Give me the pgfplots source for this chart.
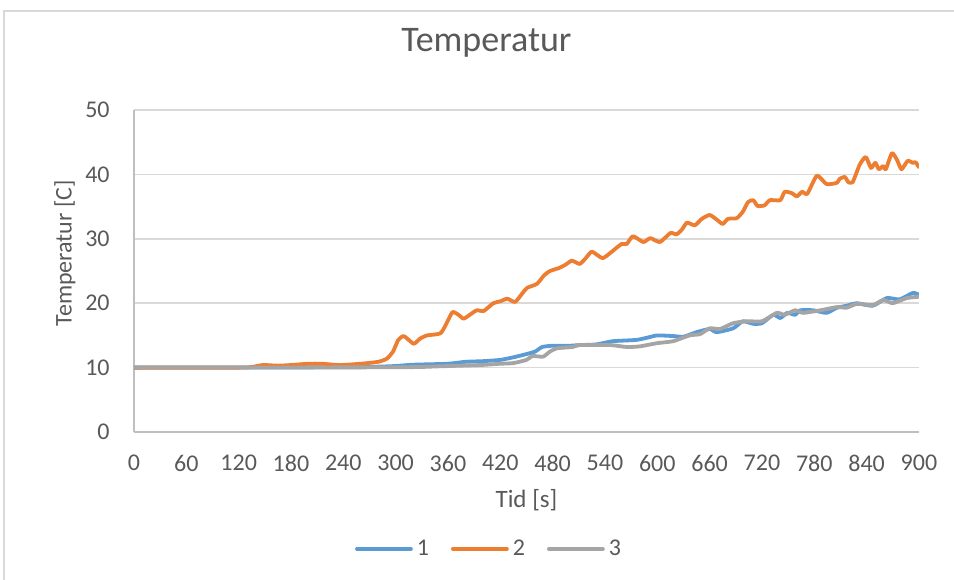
\documentclass[border=0pt]{standalone}
\usepackage{pgfplots}
\pgfplotsset{compat=1.18}
\usepackage{fontspec}
\setmainfont{Carlito}
\definecolor{s1}{HTML}{5B9BD5}
\definecolor{s2}{HTML}{ED7D31}
\definecolor{s3}{HTML}{A5A5A5}
\definecolor{txt}{HTML}{595959}
\definecolor{gridc}{HTML}{D9D9D9}
\definecolor{axl}{HTML}{BFBFBF}
\begin{document}
\begin{tikzpicture}
\useasboundingbox (-67pt,-73.5pt) rectangle (410pt,216pt);
\draw[gridc, line width=0.6pt] (-65pt,-80pt) -- (-65pt,210.5pt) -- (420pt,210.5pt);
\begin{axis}[
  scale only axis, width=392.5pt, height=161pt,
  xmin=0, xmax=900, ymin=0, ymax=50,
  xtick={0,60,...,900}, ytick={0,10,...,50},
  axis x line*=bottom, axis y line*=left,
  axis line style={axl, line width=0.8pt, -},
  xmajorgrids=false, ymajorgrids=true,
  grid style={gridc, line width=0.8pt},
  major tick length=0pt, tick style={draw=none},
  /pgf/number format/assume math mode=true,
  tick label style={font=\fontsize{12}{14}\selectfont, text=txt},
  yticklabel style={inner sep=0pt, anchor=east, xshift=-12pt},
  xticklabel style={inner sep=0pt, anchor=north, yshift=-11.5pt},
  title={Temperatur},
  title style={at={(axis description cs:0.449,1.171)}, anchor=center, font=\fontsize{18}{20}\selectfont, text=txt},
  xlabel={Tid [s]},
  xlabel style={at={(axis description cs:0.5,-0.211)}, anchor=center, font=\fontsize{12.5}{14}\selectfont, text=txt},
  ylabel={Temperatur [C]},
  ylabel style={at={(axis description cs:-0.088,0.555)}, anchor=center, rotate=0, font=\fontsize{12}{14}\selectfont, text=txt},
  legend columns=3,
  legend style={at={(axis description cs:0.4535,-0.363)}, anchor=center, draw=none, fill=none,
    font=\fontsize{12}{14}\selectfont, text=txt,
    /tikz/every even column/.append style={column sep=9pt}},
  legend image code/.code={\draw[#1, line cap=round] (0pt,0pt) -- (27pt,0pt);},
  every axis plot/.append style={line width=1.9pt, line join=round, line cap=round, smooth, tension=0.35},
]
\addplot[s1] coordinates {
(0,10) (240,10.05) (280,10.15) (300,10.25) (320,10.45) (360,10.6) (380,10.9) (400,11.0)
(420,11.2) (435,11.6) (450,12.1) (460,12.5) (468,13.2) (480,13.4) (500,13.4) (511,13.5)
(530,13.6) (549,14.1) (576,14.3) (590,14.7) (600,15.0) (618,14.9) (630,14.8) (645,15.5)
(660,16.0) (668,15.5) (687,16.1) (698,17.2) (710,16.8) (720,16.9) (733,18.2) (741,17.7)
(749,18.5) (758,18.2) (764,18.9) (779,18.9) (794,18.5) (806,19.3) (817,19.6) (829,20.0)
(847,19.6) (863,20.8) (878,20.6) (893,21.6) (900,21.3)
};
\addlegendentry{1}
\addplot[s2] coordinates {
(0,10.0) (120,10.0) (135,10.1) (148,10.4) (165,10.3) (180,10.4) (200,10.6) (215,10.6)
(236,10.4) (260,10.6) (280,10.9) (290,11.4) (297,12.5) (303,14.3) (309,14.9) (315,14.3)
(321,13.7) (328,14.5) (336,15.0) (351,15.3) (357,16.5) (365,18.6) (372,18.2) (378,17.6)
(386,18.3) (393,18.9) (401,18.8) (412,20.0) (420,20.3) (428,20.7) (437,20.2) (445,21.5)
(451,22.4) (462,23.0) (470,24.3) (477,25.0) (488,25.5) (495,26.0) (502,26.6) (511,26.1)
(518,27.0) (525,28.0) (537,27.0) (546,27.8) (559,29.2) (565,29.2) (572,30.4) (584,29.5)
(592,30.1) (603,29.5) (615,30.9) (622,30.7) (628,31.4) (634,32.5) (643,32.1) (651,33.1)
(660,33.7) (668,33.0) (675,32.3) (681,33.1) (691,33.2) (698,34.2) (704,35.7) (710,36.0)
(715,35.1) (723,35.2) (729,36.0) (741,36.0) (746,37.3) (754,37.1) (760,36.6) (766,37.3)
(772,37.0) (783,39.8) (794,38.5) (806,38.7) (809,39.3) (815,39.6) (819,38.8) (824,38.8)
(832,41.5) (839,42.7) (845,41.0) (850,41.8) (854,40.8) (859,41.3) (862,40.8) (869,43.3)
(875,42.2) (880,40.8) (887,42.1) (893,41.8) (896,41.9) (900,41.1)
};
\addlegendentry{2}
\addplot[s3] coordinates {
(0,10) (300,10.05) (350,10.2) (397,10.4) (420,10.6) (435,10.7) (450,11.2) (457,11.8)
(469,11.7) (477,12.5) (485,13.0) (503,13.2) (511,13.5) (546,13.5) (565,13.2) (580,13.3)
(600,13.8) (618,14.1) (637,15.0) (649,15.2) (660,16.1) (672,16.0) (687,16.9) (703,17.2)
(720,17.2) (737,18.5) (746,18.2) (758,18.9) (767,18.5) (787,18.9) (806,19.4) (817,19.3)
(829,19.9) (847,19.7) (859,20.5) (870,20.0) (886,20.8) (900,21.0)
};
\addlegendentry{3}
\end{axis}
\end{tikzpicture}
\end{document}
